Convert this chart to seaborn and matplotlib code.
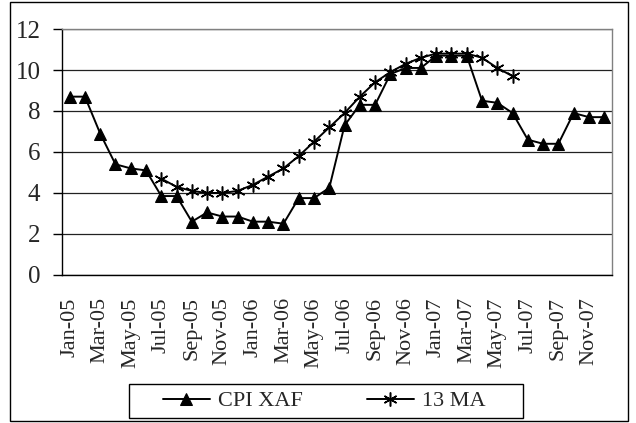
import matplotlib
matplotlib.use('Agg')
import matplotlib.pyplot as plt
import matplotlib.patches as mpatches
import numpy as np
import pandas as pd
import seaborn as sns

# --- data ---
months = ['Jan-05', 'Feb-05', 'Mar-05', 'Apr-05', 'May-05', 'Jun-05', 'Jul-05', 'Aug-05',
          'Sep-05', 'Oct-05', 'Nov-05', 'Dec-05', 'Jan-06', 'Feb-06', 'Mar-06', 'Apr-06',
          'May-06', 'Jun-06', 'Jul-06', 'Aug-06', 'Sep-06', 'Oct-06', 'Nov-06', 'Dec-06',
          'Jan-07', 'Feb-07', 'Mar-07', 'Apr-07', 'May-07', 'Jun-07', 'Jul-07', 'Aug-07',
          'Sep-07', 'Oct-07', 'Nov-07', 'Dec-07']
cpi_xaf = [8.7, 8.7, 6.9, 5.4, 5.2, 5.1, 3.85, 3.85, 2.6, 3.05, 2.85, 2.85,
           2.6, 2.6, 2.5, 3.75, 3.75, 4.25, 7.3, 8.3, 8.3, 9.8, 10.1, 10.1,
           10.7, 10.7, 10.7, 8.5, 8.4, 7.9, 6.6, 6.4, 6.4, 7.9, 7.7, 7.7]
ma13 = [np.nan] * 6 + [4.7, 4.3, 4.1, 4.0, 4.0, 4.1, 4.4, 4.8, 5.2, 5.8, 6.5, 7.2,
                       7.9, 8.7, 9.4, 9.9, 10.3, 10.6, 10.8, 10.8, 10.8, 10.6, 10.1, 9.7] + [np.nan] * 6

df = pd.DataFrame({'pos': np.arange(len(months)), 'CPI XAF': cpi_xaf, '13 MA': ma13})

# --- style ---
sns.set_style('white')
plt.rcParams['font.family'] = 'serif'
plt.rcParams['font.serif'] = ['Liberation Serif', 'Times New Roman', 'DejaVu Serif']

W, H = 636, 423
fig = plt.figure(figsize=(W / 100, H / 100), dpi=100)
ax = fig.add_axes([0.0975, 0.35, 0.8645, 0.5814])

sns.lineplot(data=df, x='pos', y='CPI XAF', ax=ax, color='black', lw=1.4,
             marker='^', markersize=9, markeredgecolor='black', label='CPI XAF')
sns.lineplot(data=df.dropna(), x='pos', y='13 MA', ax=ax, color='black', lw=1.4,
             marker=(6, 2, 0), markersize=10, markeredgewidth=1.1, markeredgecolor='black',
             label='13 MA')

ax.set_xlim(-0.5, len(months) - 0.5)
ax.set_ylim(0, 12)
ax.set_yticks(range(0, 13, 2))
ax.yaxis.grid(True, color='#222222', lw=0.9)
ax.set_axisbelow(True)

# labels on every other month, boundary ticks every two months
ax.set_xticks(np.arange(0, len(months), 2))
ax.set_xticklabels(months[::2], rotation=90)
ax.set_xticks(np.arange(-0.5, len(months), 2), minor=True)
ax.tick_params(axis='x', which='major', length=0, labelsize=16, pad=16)
ax.tick_params(axis='x', which='minor', length=6, width=1, direction='out', color='black')
ax.tick_params(axis='y', length=6.5, width=1, direction='out', color='black', labelsize=18, pad=9)
ax.tick_params(left=True, bottom=True)
ax.set_xlabel('')
ax.set_ylabel('')

for side in ['left', 'bottom']:
    ax.spines[side].set_color('black')
    ax.spines[side].set_linewidth(1.0)
for side in ['top', 'right']:
    ax.spines[side].set_color('#808080')
    ax.spines[side].set_linewidth(1.0)

# legend (frameless, box drawn separately to get the wide Excel padding)
ax.get_legend().remove()
handles, labels = ax.get_legend_handles_labels()
fig.legend(handles, labels, loc='center left', bbox_to_anchor=(163 / W, 1 - 401 / H), ncol=2,
           frameon=False, fontsize=16, handlelength=2.1, handletextpad=0.36,
           columnspacing=2.9, borderpad=0, borderaxespad=0)
fig.patches.append(mpatches.Rectangle((129 / W, 1 - 418 / H), (523 - 129) / W, 34 / H,
                                      transform=fig.transFigure, fill=False,
                                      edgecolor='black', lw=1.0))

# outer chart border
fig.patches.append(mpatches.Rectangle((10 / W, 1 - 421 / H), 618 / W, 419 / H,
                                      transform=fig.transFigure, fill=False,
                                      edgecolor='black', lw=1.0))

fig.savefig('out.png', dpi=100)
